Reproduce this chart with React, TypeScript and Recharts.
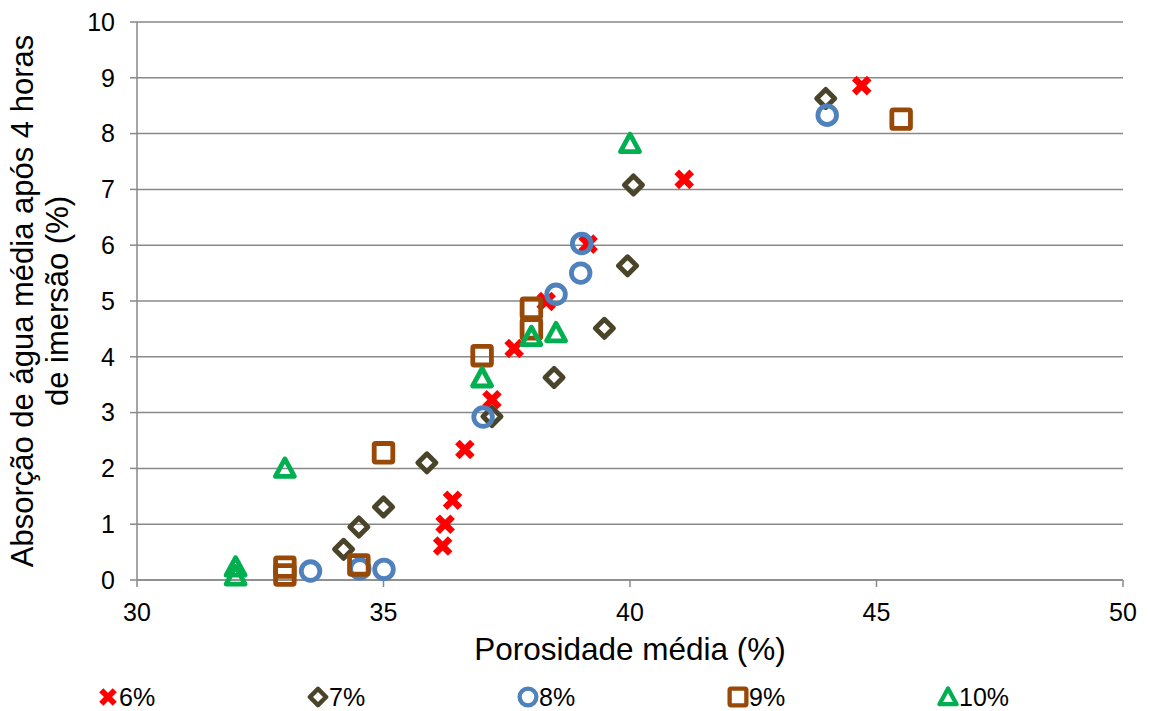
import React from 'react';
import { ScatterChart, Scatter, XAxis, YAxis, CartesianGrid, Legend, Label } from 'recharts';

// porosidade média (%) x absorção após 4 h (%)
const porosity6 = [44.7, 41.1, 39.15, 38.3, 37.65, 37.2, 36.65, 36.4, 36.25, 36.2];
const absorption6 = [8.86, 7.18, 6.02, 4.99, 4.15, 3.23, 2.34, 1.43, 1.0, 0.61];

const porosity7 = [43.97, 40.07, 39.95, 39.48, 38.46, 37.2, 35.88, 35.0, 34.5, 34.19];
const absorption7 = [8.63, 7.08, 5.63, 4.51, 3.63, 2.93, 2.1, 1.31, 0.95, 0.55];

const porosity8 = [44.0, 39.02, 39.0, 38.5, 37.02, 35.01, 34.52, 33.52];
const absorption8 = [8.33, 6.03, 5.5, 5.12, 2.92, 0.19, 0.2, 0.16];

const porosity9 = [45.5, 38.0, 38.0, 37.0, 35.0, 34.5, 33.0, 33.0];
const absorption9 = [8.26, 4.87, 4.5, 4.02, 2.28, 0.27, 0.23, 0.09];

const porosity10 = [40.0, 38.5, 38.0, 37.0, 33.0, 32.0, 32.0];
const absorption10 = [7.82, 4.43, 4.36, 3.62, 2.0, 0.23, 0.07];

const seriesNames = ['6%', '7%', '8%', '9%', '10%'];
const xTicks = [30, 35, 40, 45, 50];
const yTicks = [0, 1, 2, 3, 4, 5, 6, 7, 8, 9, 10];

const FONT = '"Liberation Sans", Arial, sans-serif';
const GRID = '#898989';

const zip = (xs: number[], ys: number[]) => xs.map((x, i) => ({ x, y: ys[i] }));

type MarkProps = { cx: number; cy: number; s?: number };

const CrossMark = ({ cx, cy, s = 1 }: MarkProps) => (
  <g stroke="#FF0000" strokeWidth={6.5 * s}>
    <line x1={cx - 7.5 * s} y1={cy - 7.5 * s} x2={cx + 7.5 * s} y2={cy + 7.5 * s} />
    <line x1={cx - 7.5 * s} y1={cy + 7.5 * s} x2={cx + 7.5 * s} y2={cy - 7.5 * s} />
  </g>
);

const DiamondMark = ({ cx, cy, s = 1 }: MarkProps) => (
  <polygon
    points={`${cx},${cy - 9 * s} ${cx + 9 * s},${cy} ${cx},${cy + 9 * s} ${cx - 9 * s},${cy}`}
    fill="none"
    stroke="#4A452A"
    strokeWidth={5 * s}
    strokeLinejoin="round"
  />
);

const CircleMark = ({ cx, cy, s = 1 }: MarkProps) => (
  <circle cx={cx} cy={cy} r={9.3 * s} fill="none" stroke="#4F81BD" strokeWidth={4.8 * s} />
);

const SquareMark = ({ cx, cy, s = 1 }: MarkProps) => (
  <rect
    x={cx - 9.3 * s}
    y={cy - 9.3 * s}
    width={18.6 * s}
    height={18.6 * s}
    rx={1.5}
    fill="none"
    stroke="#984807"
    strokeWidth={4.8 * s}
  />
);

const TriangleMark = ({ cx, cy, s = 1 }: MarkProps) => (
  <polygon
    points={`${cx},${cy - 9.5 * s} ${cx + 9.5 * s},${cy + 8 * s} ${cx - 9.5 * s},${cy + 8 * s}`}
    fill="none"
    stroke="#00B050"
    strokeWidth={4.8 * s}
    strokeLinejoin="round"
  />
);

const marks = [CrossMark, DiamondMark, CircleMark, SquareMark, TriangleMark];
const legendLeft = [97, 307, 517, 727, 937];

const renderLegend = () => (
  <div style={{ position: 'relative', height: 28, fontFamily: FONT, fontSize: 25, color: '#000' }}>
    {seriesNames.map((name, i) => {
      const Mark = marks[i];
      return (
        <div
          key={name}
          style={{ position: 'absolute', left: legendLeft[i], top: 0, height: 28, display: 'flex', alignItems: 'center' }}
        >
          <svg width={22} height={28}>
            <Mark cx={11} cy={14} s={0.9} />
          </svg>
          <span style={{ lineHeight: '28px' }}>{name}</span>
        </div>
      );
    })}
  </div>
);

export default function App() {
  const datasets = [
    zip(porosity6, absorption6),
    zip(porosity7, absorption7),
    zip(porosity8, absorption8),
    zip(porosity9, absorption9),
    zip(porosity10, absorption10),
  ];

  return (
    <div style={{ width: 1149, height: 711 }}>
      <style>{'body{margin:0;overflow:hidden}'}</style>
      <ScatterChart width={1149} height={711} margin={{ top: 22, right: 26, left: 0, bottom: 0 }}>
        <CartesianGrid vertical={false} stroke={GRID} strokeWidth={1.5} />
        <XAxis
          type="number"
          dataKey="x"
          domain={[30, 50]}
          ticks={xTicks}
          height={103}
          tickSize={7}
          tickMargin={16}
          stroke={GRID}
          strokeWidth={1.5}
          tick={{ fill: '#000', fontSize: 25, fontFamily: FONT }}
        >
          <Label
            content={({ viewBox }: any) => (
              <text
                x={viewBox.x + viewBox.width / 2}
                y={viewBox.y + 80}
                textAnchor="middle"
                fontSize={31.5}
                fontFamily={FONT}
                fill="#000"
              >
                Porosidade média (%)
              </text>
            )}
          />
        </XAxis>
        <YAxis
          type="number"
          dataKey="y"
          domain={[0, 10]}
          ticks={yTicks}
          width={137}
          tickSize={7}
          tickMargin={15}
          stroke={GRID}
          strokeWidth={1.5}
          tick={{ fill: '#000', fontSize: 25, fontFamily: FONT }}
        >
          <Label
            content={({ viewBox }: any) => {
              const cy = viewBox.y + viewBox.height / 2;
              return (
                <text transform="rotate(-90)" textAnchor="middle" fontSize={31} fontFamily={FONT} fill="#000">
                  <tspan x={-cy} y={33}>Absorção de água média após 4 horas</tspan>
                  <tspan x={-cy} y={68}>de imersão (%)</tspan>
                </text>
              );
            }}
          />
        </YAxis>
        {datasets.map((data, i) => {
          const Mark = marks[i];
          return (
            <Scatter
              key={seriesNames[i]}
              name={seriesNames[i]}
              data={data}
              isAnimationActive={false}
              shape={(p: any) => <Mark cx={p.cx} cy={p.cy} />}
            />
          );
        })}
        <Legend
          verticalAlign="bottom"
          content={renderLegend}
          wrapperStyle={{ left: 0, width: 1149, height: 28 }}
        />
      </ScatterChart>
    </div>
  );
}
